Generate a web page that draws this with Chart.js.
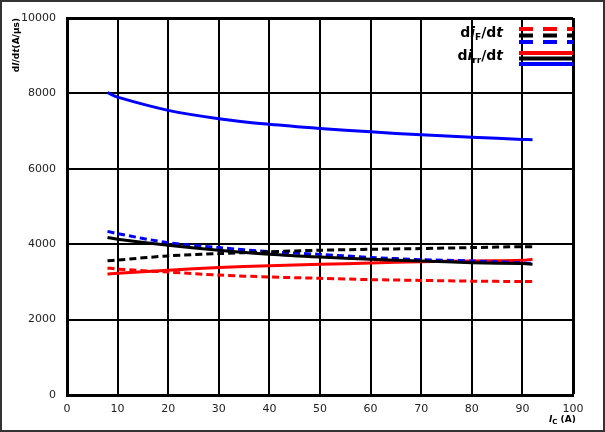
<!DOCTYPE html>
<html>
<head>
<meta charset="utf-8">
<script src="https://cdn.jsdelivr.net/npm/chart.js@4"></script>
<style>
  html, body { margin: 0; padding: 0; background: #fff; }
  #wrap { width: 605px; height: 432px; }
</style>
</head>
<body>
<div id="wrap"><canvas id="chart" width="605" height="432"></canvas></div>
<script>
// collector current I_C (A)
const currents = [8, 10, 20, 30, 40, 50, 60, 70, 80, 90, 92];

// di_rr/dt (solid) and di_F/dt (dashed), A/us
const blueSolid  = [8020, 7900, 7550, 7330, 7180, 7070, 6980, 6900, 6840, 6780, 6770];
const blueDashed = [4340, 4280, 4040, 3910, 3800, 3730, 3650, 3590, 3555, 3505, 3490];
const blackSolid = [4180, 4130, 3970, 3840, 3735, 3660, 3600, 3555, 3510, 3485, 3470];
const blackDashed = [3560, 3580, 3690, 3750, 3800, 3840, 3865, 3885, 3910, 3935, 3935];
const redSolid   = [3210, 3230, 3310, 3380, 3430, 3465, 3500, 3535, 3555, 3575, 3600];
const redDashed  = [3370, 3340, 3260, 3180, 3130, 3095, 3060, 3040, 3020, 3010, 3010];

const xTicks = [0, 10, 20, 30, 40, 50, 60, 70, 80, 90, 100];
const yTicks = [0, 2000, 4000, 6000, 8000, 10000];

function pts(ys) {
    return currents.map((x, i) => ({ x: x, y: ys[i] }));
}

function series(ys, color, dashed) {
    return {
        data: pts(ys),
        borderColor: color,
        borderWidth: 3,
        borderDash: dashed ? [7, 4] : [],
        pointRadius: 0,
        tension: 0.3,
        fill: false
    };
}

// draws runs of text with mixed fonts, left to right
function drawRuns(ctx, runs, x, y) {
    runs.forEach(r => {
        ctx.font = r[1];
        ctx.fillText(r[0], x, y + (r[2] || 0));
        x += ctx.measureText(r[0]).width;
    });
}

function runsWidth(ctx, runs) {
    let w = 0;
    runs.forEach(r => { ctx.font = r[1]; w += ctx.measureText(r[0]).width; });
    return w;
}

// frame, axis titles and the legend with subscripts
const decorations = {
    id: "decorations",
    afterDraw(chart) {
        const ctx = chart.ctx;
        ctx.save();

        // outer frame
        ctx.strokeStyle = "#333";
        ctx.lineWidth = 2;
        ctx.strokeRect(1, 1, 603, 430);

        ctx.fillStyle = "#000";
        ctx.textAlign = "left";
        ctx.textBaseline = "alphabetic";

        // y title
        const yTitle = [
            ["d", "bold 9px 'DejaVu Sans'"],
            ["I", "bold italic 9px 'DejaVu Sans'"],
            ["/d", "bold 9px 'DejaVu Sans'"],
            ["t", "bold italic 9px 'DejaVu Sans'"],
            ["(A/\u00b5s)", "bold 9px 'DejaVu Sans'"]
        ];
        ctx.save();
        ctx.translate(19, 18);
        ctx.rotate(-Math.PI / 2);
        drawRuns(ctx, yTitle, -runsWidth(ctx, yTitle), 0);
        ctx.restore();

        // x title
        drawRuns(ctx, [
            ["I", "bold italic 9px 'DejaVu Sans'"],
            ["C", "bold 7px 'DejaVu Sans'", 2],
            [" (A)", "bold 9px 'DejaVu Sans'"]
        ], 549, 422);

        // legend text
        function legendLabel(sub, base) {
            const runs = [
                ["d", "bold 14px 'DejaVu Sans'"],
                ["i", "bold italic 14px 'DejaVu Sans'"],
                [sub, "bold 9px 'DejaVu Sans'", 3],
                ["/d", "bold 14px 'DejaVu Sans'"],
                ["t", "bold italic 14px 'DejaVu Sans'"]
            ];
            drawRuns(ctx, runs, 503 - runsWidth(ctx, runs), base);
        }
        legendLabel("F", 37);
        legendLabel("rr", 60);

        // legend lines
        const colors = ["#ff0000", "#000000", "#0000ff"];
        ctx.lineWidth = 4;
        colors.forEach((c, i) => {
            ctx.strokeStyle = c;
            ctx.setLineDash([14, 10]);
            ctx.beginPath();
            ctx.moveTo(519, 29 + i * 6.5);
            ctx.lineTo(573, 29 + i * 6.5);
            ctx.stroke();
            ctx.setLineDash([]);
            ctx.beginPath();
            ctx.moveTo(519, 53 + i * 5.5);
            ctx.lineTo(573, 53 + i * 5.5);
            ctx.stroke();
        });

        ctx.restore();
    }
};

new Chart(document.getElementById("chart"), {
    type: "line",
    data: {
        datasets: [
            series(blackDashed, "#000000", true),
            series(blackSolid, "#000000", false),
            series(blueDashed, "#0000ff", true),
            series(redDashed, "#ff0000", true),
            series(redSolid, "#ff0000", false),
            series(blueSolid, "#0000ff", false)
        ]
    },
    options: {
        responsive: false,
        animation: false,
        layout: { padding: { top: 18, right: 32, left: 0, bottom: 0 } },
        plugins: {
            legend: { display: false },
            tooltip: { enabled: false }
        },
        scales: {
            x: {
                type: "linear",
                min: 0,
                max: 100,
                afterBuildTicks: s => { s.ticks = xTicks.map(v => ({ value: v })); },
                afterFit: s => { s.height = 37; },
                grid: {
                    color: "#000",
                    lineWidth: c => (c.tick && (c.tick.value === 100) ? 3 : 2),
                    drawTicks: false
                },
                border: { display: true, color: "#000", width: 3 },
                ticks: {
                    color: "#222",
                    padding: 8,
                    callback: v => String(v),
                    font: { family: "'DejaVu Sans'", size: 11 }
                }
            },
            y: {
                min: 0,
                max: 10000,
                afterBuildTicks: s => { s.ticks = yTicks.map(v => ({ value: v })); },
                afterFit: s => { s.width = 67; },
                grid: {
                    color: "#000",
                    lineWidth: c => (c.tick && (c.tick.value === 10000) ? 3 : 2),
                    drawTicks: false
                },
                border: { display: true, color: "#000", width: 3 },
                ticks: {
                    color: "#222",
                    padding: 11,
                    callback: v => String(v),
                    font: { family: "'DejaVu Sans'", size: 11 }
                }
            }
        }
    },
    plugins: [decorations]
});
</script>
</body>
</html>
